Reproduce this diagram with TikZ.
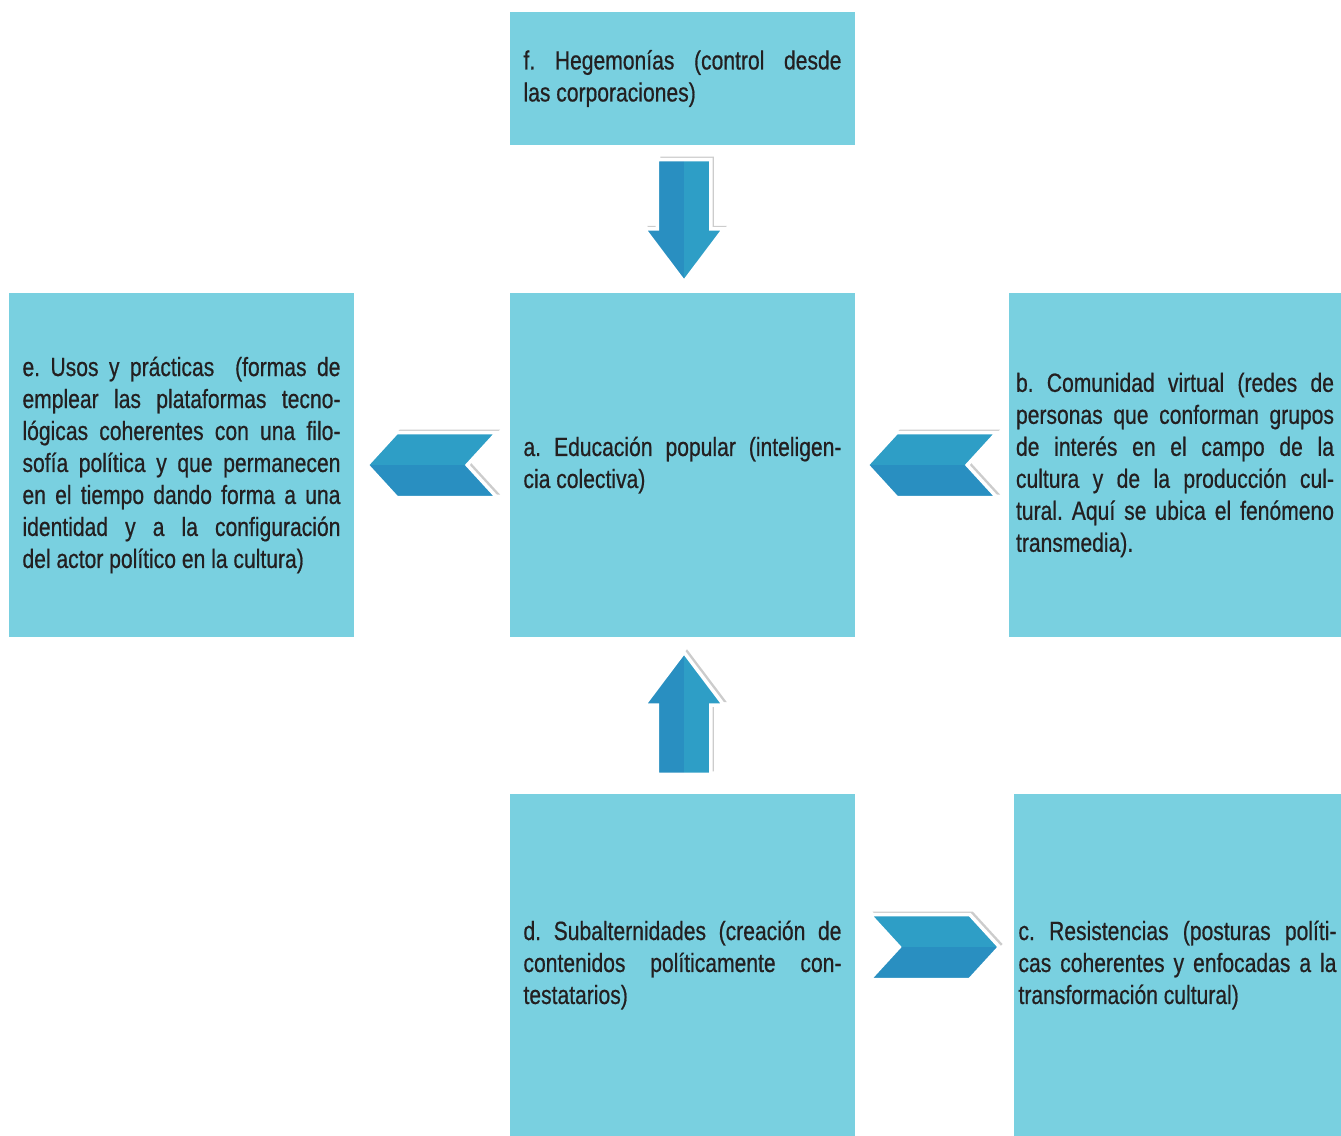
\documentclass[tikz,border=0pt]{standalone}
\usepackage{fontspec}
\setmainfont{Liberation Sans}[FakeStretch=0.8, FakeBold=0.6]
\usetikzlibrary{shapes.arrows,shapes.symbols,shadows,calc}
\definecolor{cajafondo}{HTML}{79D0E0}
\definecolor{flechaosc}{HTML}{298FC1}
\definecolor{flechacla}{HTML}{2E9EC6}
\definecolor{texto}{HTML}{231F20}
\tikzset{
  caja/.style = {rectangle, fill=cajafondo, inner sep=0pt, text width=63.6mm, align=justify, text=texto, font=\fontsize{15}{18.2}\selectfont\frenchspacing},
  flecha/.style = {fill=flechaosc, draw=white, line width=0.7mm, drop shadow={shadow xshift=0.6mm, shadow yshift=0.6mm, opacity=0.4}},
  flecha_v/.style = {flecha, single arrow, anchor=tip, inner sep=5mm, minimum height=24.4mm, single arrow head extend=2.6mm, single arrow tip angle=74,
    path picture={\fill[flechacla] (path picture bounding box.north) rectangle (path picture bounding box.south east);}},
  flecha_h/.style = {flecha, signal, inner sep=0pt, minimum width=26mm, minimum height=13mm, signal pointer angle=95,
    path picture={\fill[flechacla] (path picture bounding box.west) rectangle (path picture bounding box.north east);}},
}
\newcommand{\sep}{\linebreak}

\begin{document}
\begin{tikzpicture}[x=0.2mm, y=-0.2mm]
  \useasboundingbox (0,0) rectangle (1341,1136);
  % cajas
  \node [caja, minimum width=69mm, minimum height=26.6mm] (f) at (682.5,78.5)
    {f. Hegemonías (control desde\sep las corporaciones)};
  \node [caja, minimum width=69mm, minimum height=68.8mm] (a) at (682.5,465)
    {a. Educación popular (inteligen-\sep cia colectiva)};
  \node [caja, minimum width=69mm, minimum height=68.8mm] (e) at (181.5,465)
    {e. Usos y prácticas\ \ (formas de\sep emplear las plataformas tecno-\sep lógicas coherentes con una filo-\sep sofía política y que permanecen\sep en el tiempo dando forma a una\sep identidad y a la configuración\sep del actor político en la cultura)};
  \node [caja, minimum width=66.4mm, minimum height=68.8mm] (b) at (1175,465)
    {b. Comunidad virtual (redes de\sep personas que conforman grupos\sep de interés en el campo de la\sep cultura y de la producción cul-\sep tural. Aquí se ubica el fenómeno\sep transmedia).};
  \node [caja, minimum width=69mm, minimum height=68.4mm] (d) at (682.5,965)
    {d. Subalternidades (creación de\sep contenidos políticamente con-\sep testatarios)};
  \node [caja, minimum width=65.4mm, minimum height=68.4mm] (c) at (1177.5,965)
    {c. Resistencias (posturas políti-\sep cas coherentes y enfocadas a la\sep transformación cultural)};
  % flechas
  \node [flecha_v, shape border rotate=270] (fa) at ($(a.north)+(1.5,-8)$) {};
  \node [flecha_v, shape border rotate=90] (da) at ($(a.south)+(1.5,12)$) {};
  \node [flecha_h, signal to=west, signal from=east] (ae) at ($(a.west)!0.5!(e.east)$) {};
  \node [flecha_h, signal to=west, signal from=east] (ba) at ($(b.west)!0.5!(a.east)$) {};
  \node [flecha_h, signal to=east, signal from=west, yshift=3.6mm] (dc) at ($(d.east)!0.5!(c.west)$) {};
\end{tikzpicture}
\end{document}
